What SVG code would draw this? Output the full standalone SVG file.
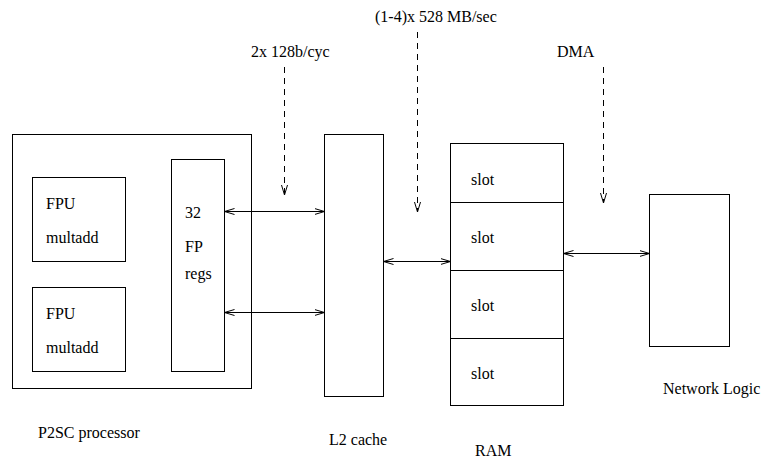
<svg xmlns="http://www.w3.org/2000/svg" width="763" height="460" viewBox="0 0 763 460">
<style>
.box{fill:#fff;stroke:#000;stroke-width:1}
.t{font-family:"Liberation Serif","Times New Roman",serif;font-size:16px;fill:#000}
.c{fill:none;stroke:#000;stroke-width:1}
.d{stroke-dasharray:6,5}
</style>
<defs>
<marker id="ah" viewBox="0 0 10 8" refX="10" refY="4" markerWidth="10" markerHeight="8" markerUnits="userSpaceOnUse" orient="auto-start-reverse">
<path d="M0,1 L10,4 L0,7" fill="none" stroke="#000" stroke-width="1" stroke-dasharray="none"/>
</marker>
</defs>
<rect width="763" height="460" fill="#fff"/>
<g id="processor">
<rect class="box" x="12.5" y="134.5" width="239" height="254"/>
<text class="t" x="38" y="438">P2SC processor</text>
</g>
<g id="fpu1">
<rect class="box" x="32.5" y="177.5" width="93" height="84"/>
<text class="t" x="46" y="209">FPU</text>
<text class="t" x="46" y="243">multadd</text>
</g>
<g id="fpu2">
<rect class="box" x="32.5" y="287.5" width="93" height="84"/>
<text class="t" x="46" y="319">FPU</text>
<text class="t" x="46" y="353">multadd</text>
</g>
<g id="regs">
<rect class="box" x="171.5" y="159.5" width="53" height="212"/>
<text class="t" x="185" y="218">32</text>
<text class="t" x="185" y="252">FP</text>
<text class="t" x="185" y="279">regs</text>
</g>
<g id="l2cache">
<rect class="box" x="324.5" y="134.5" width="59" height="262"/>
<text class="t" x="329" y="445">L2 cache</text>
</g>
<g id="ram">
<rect class="box" x="450.5" y="143.5" width="113" height="262"/>
<line class="c" x1="450.5" y1="202.5" x2="563.5" y2="202.5"/>
<line class="c" x1="450.5" y1="270.5" x2="563.5" y2="270.5"/>
<line class="c" x1="450.5" y1="338.5" x2="563.5" y2="338.5"/>
<text class="t" x="471" y="185">slot</text>
<text class="t" x="471" y="243">slot</text>
<text class="t" x="471" y="311">slot</text>
<text class="t" x="471" y="379">slot</text>
<text class="t" x="475" y="456">RAM</text>
</g>
<g id="network">
<rect class="box" x="649.5" y="194.5" width="80" height="152"/>
<text class="t" x="663" y="394">Network Logic</text>
</g>
<g id="labels">
<text class="t" x="251" y="57">2x 128b/cyc</text>
<text class="t" x="375" y="22">(1-4)x 528 MB/sec</text>
<text class="t" x="557" y="57">DMA</text>
</g>
<g id="connectors">
<line class="c" x1="224.5" y1="211.5" x2="324.5" y2="211.5" marker-start="url(#ah)" marker-end="url(#ah)"/>
<line class="c" x1="224.5" y1="312.5" x2="324.5" y2="312.5" marker-start="url(#ah)" marker-end="url(#ah)"/>
<line class="c" x1="383.5" y1="261.5" x2="450.5" y2="261.5" marker-start="url(#ah)" marker-end="url(#ah)"/>
<line class="c" x1="563.5" y1="253.5" x2="649.5" y2="253.5" marker-start="url(#ah)" marker-end="url(#ah)"/>
<line class="c d" x1="284.5" y1="67" x2="284.5" y2="195" marker-end="url(#ah)"/>
<line class="c d" x1="417.5" y1="32" x2="417.5" y2="212" marker-end="url(#ah)"/>
<line class="c d" x1="603.5" y1="67" x2="603.5" y2="203" marker-end="url(#ah)"/>
</g>
</svg>
